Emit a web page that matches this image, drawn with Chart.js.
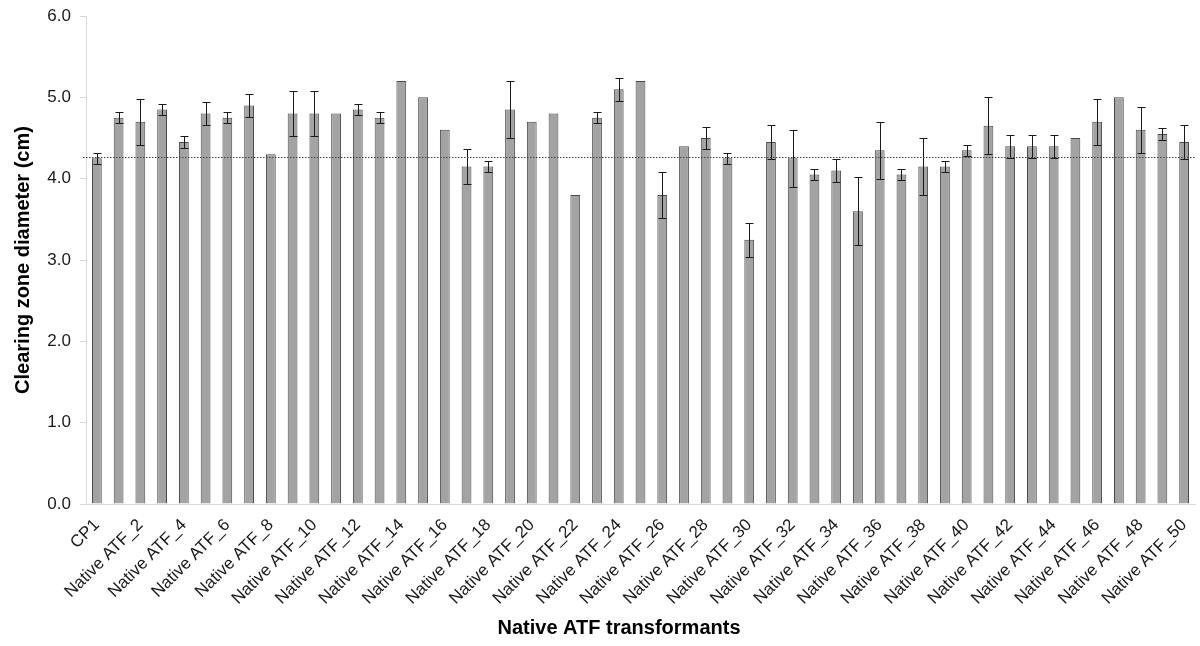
<!DOCTYPE html>
<html>
<head>
<meta charset="utf-8">
<script src="https://cdn.jsdelivr.net/npm/chart.js@4.4.1/dist/chart.umd.min.js"></script>
<style>
  html, body { margin: 0; padding: 0; background: #fff; }
  #wrap { width: 1200px; height: 646px; }
</style>
</head>
<body>
<div id="wrap"><canvas id="clearingChart"></canvas></div>
<script>
const categories = ['CP1'];
for (let i = 1; i <= 50; i++) categories.push('Native ATF_' + i);

const means = [
  4.25, 4.75, 4.70, 4.85, 4.45, 4.80, 4.75, 4.90, 4.30, 4.80,
  4.80, 4.80, 4.85, 4.75, 5.20, 5.00, 4.60, 4.15, 4.15, 4.85,
  4.70, 4.80, 3.80, 4.75, 5.10, 5.20, 3.80, 4.40, 4.50, 4.25,
  3.25, 4.45, 4.25, 4.05, 4.10, 3.60, 4.35, 4.05, 4.15, 4.15,
  4.35, 4.65, 4.40, 4.40, 4.40, 4.50, 4.70, 5.00, 4.60, 4.55,
  4.45
];

const errors = [
  0.07, 0.07, 0.28, 0.07, 0.07, 0.14, 0.07, 0.14, 0, 0.28,
  0.28, 0, 0.07, 0.07, 0, 0, 0, 0.21, 0.07, 0.35,
  0, 0, 0, 0.07, 0.14, 0, 0.28, 0, 0.14, 0.07,
  0.21, 0.21, 0.35, 0.07, 0.14, 0.42, 0.35, 0.07, 0.35, 0.07,
  0.07, 0.35, 0.14, 0.14, 0.14, 0, 0.28, 0, 0.28, 0.07,
  0.21
];

const yTicks = [0, 1, 2, 3, 4, 5, 6];
const referenceLine = 4.27;

const errorBarPlugin = {
  id: 'errorBars',
  afterDatasetsDraw(chart) {
    const ctx = chart.ctx;
    const meta = chart.getDatasetMeta(0);
    const y = chart.scales.y;
    ctx.save();
    ctx.strokeStyle = '#1a1a1a';
    ctx.lineWidth = 1;
    meta.data.forEach((bar, i) => {
      const err = errors[i];
      if (!err) return;
      const x = Math.round(bar.x) + 0.5;
      const top = Math.round(y.getPixelForValue(means[i] + err)) + 0.5;
      const bot = Math.round(y.getPixelForValue(means[i] - err)) + 0.5;
      ctx.beginPath();
      ctx.moveTo(x, top);
      ctx.lineTo(x, bot);
      ctx.moveTo(x - 4, top);
      ctx.lineTo(x + 4, top);
      ctx.moveTo(x - 4, bot);
      ctx.lineTo(x + 4, bot);
      ctx.stroke();
    });

    // dotted reference line
    const ly = Math.round(y.getPixelForValue(referenceLine)) + 0.5;
    ctx.strokeStyle = '#444';
    ctx.setLineDash([1.5, 1.5]);
    ctx.beginPath();
    ctx.moveTo(chart.chartArea.left - 3, ly);
    ctx.lineTo(chart.chartArea.right, ly);
    ctx.stroke();
    ctx.restore();
  },
  afterDraw(chart) {
    const ctx = chart.ctx;
    ctx.save();
    ctx.fillStyle = '#000';
    ctx.font = 'bold 20px "Liberation Sans", Arial, sans-serif';
    ctx.textAlign = 'center';
    ctx.textBaseline = 'middle';
    ctx.fillText('Native ATF transformants', 619, 628);
    ctx.translate(23, 260);
    ctx.rotate(-Math.PI / 2);
    ctx.fillText('Clearing zone diameter (cm)', 0, 0);
    ctx.restore();
  }
};

new Chart(document.getElementById('clearingChart'), {
  type: 'bar',
  data: {
    labels: categories,
    datasets: [{
      data: means,
      backgroundColor: '#a3a3a3',
      borderColor: '#4a4a4a',
      borderWidth: 1,
      barPercentage: 0.45,
      categoryPercentage: 1.0
    }]
  },
  options: {
    responsive: true,
    maintainAspectRatio: false,
    animation: false,
    layout: { padding: { top: 16, right: 5, left: 0, bottom: 0 } },
    plugins: {
      legend: { display: false },
      tooltip: { enabled: false }
    },
    scales: {
      x: {
        grid: { display: false, drawTicks: false },
        border: { display: true, color: '#d9d9d9', width: 1 },
        ticks: {
          autoSkip: false,
          minRotation: 45,
          maxRotation: 45,
          padding: 11,
          color: '#1a1a1a',
          font: { family: '"Liberation Sans", Arial, sans-serif', size: 17 },
          callback: (val, i) => (i % 2 === 0 ? categories[i] : '')
        },
        afterFit(scale) {
          scale.height = 142;
          scale.paddingLeft = 0;
          scale.paddingRight = 0;
        }
      },
      y: {
        min: yTicks[0],
        max: yTicks[yTicks.length - 1],
        grid: { display: true, drawOnChartArea: false, drawTicks: true, tickLength: 6, color: '#d9d9d9' },
        border: { display: true, color: '#d9d9d9', width: 1 },
        ticks: {
          stepSize: 1,
          padding: 9,
          color: '#1a1a1a',
          font: { family: '"Liberation Sans", Arial, sans-serif', size: 17 },
          callback: v => v.toFixed(1)
        },
        afterFit(scale) {
          scale.width = 86;
          scale.paddingTop = 0;
          scale.paddingBottom = 0;
        }
      }
    }
  },
  plugins: [errorBarPlugin]
});
</script>
</body>
</html>
